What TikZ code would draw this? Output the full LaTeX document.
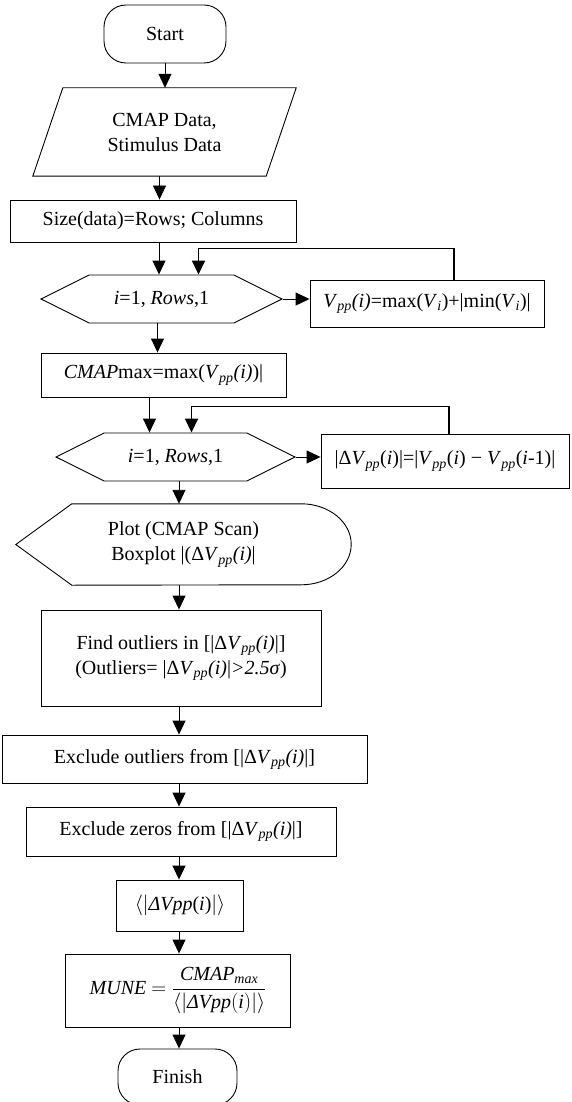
\documentclass[tikz,border=0pt]{standalone}
\usepackage{amsmath}
\usepackage{fontspec}
\setmainfont{Liberation Serif}
\usetikzlibrary{shapes.symbols,arrows.meta}
\newcommand{\Vpp}{\textit{V}\textsubscript{\textit{pp}}}

\begin{document}
\begin{tikzpicture}[x=1pt, y=-1pt,
    every node/.style={font=\fontsize{20}{25}\selectfont, align=center, inner sep=0pt},
    kasten/.style={draw, line width=0.9pt, rectangle},
    rund/.style={draw, line width=0.9pt, rectangle, rounded corners=22pt},
    sechseck/.style={draw, line width=0.9pt, signal, signal to=west and east, signal pointer angle=53},
    pfeil/.style={line width=0.9pt, -{Triangle[length=14pt,width=13pt]}},
    rueck/.style={line width=1.8pt, -{Triangle[length=14pt,width=13pt]}}]
        \useasboundingbox (0,0) rectangle (571,1102);

        % Start und Eingabe
        \node[rund, minimum width=122pt, minimum height=58pt] (start) at (165,34) {Start};
        \node[minimum width=263pt, minimum height=88pt] (data) at (164.5,132) {CMAP Data,\\Stimulus Data};
        \draw[line width=0.9pt] ([xshift=30pt]data.north west) -- (data.north east) -- ([xshift=-30pt]data.south east) -- (data.south west) -- cycle;
        \node[kasten, minimum width=286pt, minimum height=42pt] (size) at (153,221) {Size(data)=Rows; Columns};

        % Erste Schleife
        \node[sechseck, minimum width=241pt, minimum height=48pt] (loopa) at (161.5,299) {\textit{i}=1, \textit{Rows},1};
        \node[kasten, minimum width=234pt, minimum height=47pt] (vpp) at (427,303.5) {\Vpp\textit{(i)}=max(\textit{V}\textsubscript{\textit{i}})+|min(\textit{V}\textsubscript{\textit{i}})|};
        \node[kasten, minimum width=245pt, minimum height=44pt] (cmap) at (163.5,375) {\textit{CMAP}max=max(\Vpp\textit{(i)})|};

        % Zweite Schleife
        \node[sechseck, minimum width=239pt, minimum height=48pt] (loopb) at (175.5,457) {\textit{i}=1, \textit{Rows},1};
        \node[kasten, minimum width=248pt, minimum height=54pt] (dvpp) at (445,461) {|Δ\Vpp(\textit{i})|=|\Vpp(\textit{i}) − \Vpp(\textit{i}-1)|};

        % Anzeige (Plot)
        \node[minimum width=335pt, minimum height=81pt] (plot) at (183.5,544.5) {Plot (CMAP Scan)\\Boxplot |(Δ\Vpp\textit{(i)}|};
        \draw[line width=0.9pt] (plot.west) -- ([xshift=56pt]plot.north west) -- ([xshift=-50pt]plot.north east)
            arc[start angle=90, end angle=-90, x radius=50pt, y radius=40.5pt] -- ([xshift=56pt]plot.south west) -- cycle;

        % Auswertung
        \node[kasten, minimum width=280pt, minimum height=96pt] (find) at (181,658) {Find outliers in [|Δ\Vpp\textit{(i)}|]\\(Outliers= |Δ\Vpp\textit{(i)}|\textit{>2.5σ})};
        \node[kasten, minimum width=365pt, minimum height=48pt] (exout) at (184.5,759) {Exclude outliers from [|Δ\Vpp\textit{(i)}|]};
        \node[kasten, minimum width=310pt, minimum height=49pt] (exzero) at (181,831.5) {Exclude zeros from [|Δ\Vpp\textit{(i)}|]};
        \node[kasten, minimum width=127pt, minimum height=51pt] (mean) at (180,905.5) {$\langle|$\textit{ΔVpp}(\textit{i})$|\rangle$};
        \node[kasten, minimum width=225pt, minimum height=73pt] (mune) at (178,990.5) {\textit{MUNE} $=\dfrac{\textit{CMAP}_{\textit{max}}}{\langle|\textit{ΔVpp}(\textit{i})|\rangle}$};
        \node[rund, minimum width=119pt, minimum height=56pt] (finish) at (177.5,1077) {Finish};

        % Pfeile oben
        \draw[pfeil] (start.south) -- (start.south |- data.north);
        \draw[pfeil] ([xshift=-5pt]data.south) -- ([xshift=-5pt]data.south |- size.north);
        \draw[pfeil] ([xshift=6pt]size.south) -- ([xshift=6pt]size.south |- loopa.north);
        \draw[pfeil] (loopa.east) -- (loopa.east -| vpp.west);
        \draw[rueck] ([xshift=27pt]vpp.north) -- ++(0,-31) -| ([xshift=37pt]loopa.north);
        \draw[pfeil] ([xshift=-4pt]loopa.south) -- ([xshift=-4pt]loopa.south |- cmap.north);
        \draw[pfeil] ([xshift=-14pt]cmap.south) -- ([xshift=-14pt]cmap.south |- loopb.north);
        \draw[pfeil] (loopb.east) -- (loopb.east -| dvpp.west);
        \draw[rueck] ([xshift=4pt]dvpp.north) -- ++(0,-27) -| ([xshift=16pt]loopb.north);

        % Pfeile unten
        \coordinate (achse) at (179,0);
        \draw[pfeil] (loopb.south -| achse) -- (plot.north -| achse);
        \draw[pfeil] (plot.south -| achse) -- (find.north -| achse);
        \draw[pfeil] (find.south -| achse) -- (exout.north -| achse);
        \draw[pfeil] (exout.south -| achse) -- (exzero.north -| achse);
        \draw[pfeil] (exzero.south -| achse) -- (mean.north -| achse);
        \draw[pfeil] (mean.south -| achse) -- (mune.north -| achse);
        \draw[pfeil] (mune.south -| achse) -- (finish.north -| achse);
\end{tikzpicture}
\end{document}
